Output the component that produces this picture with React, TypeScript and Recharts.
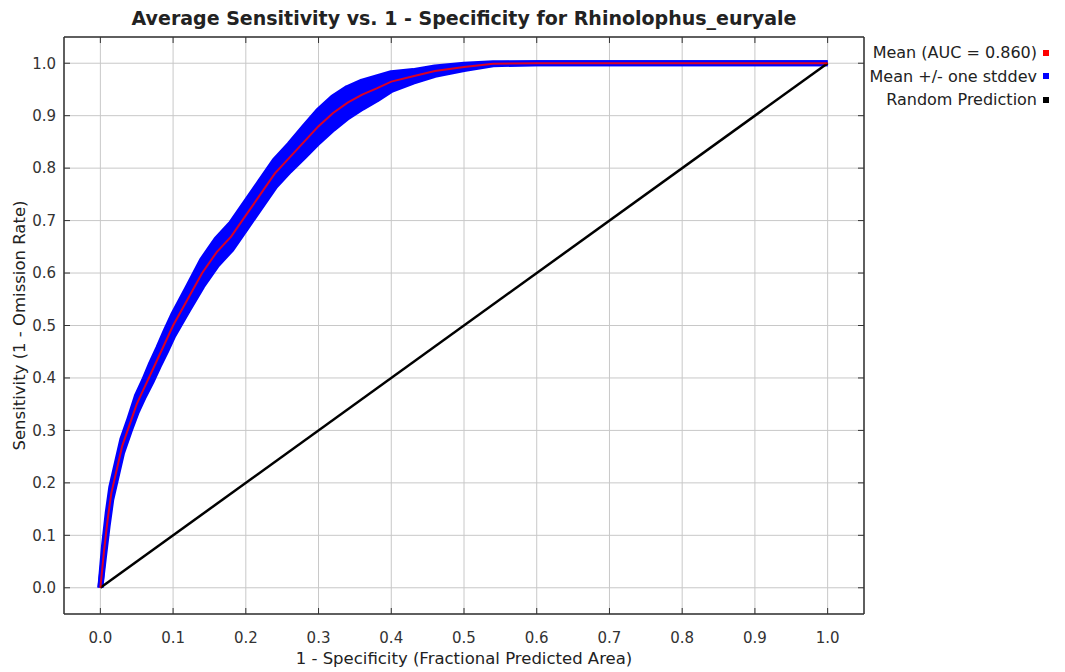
import { Area, CartesianGrid, ComposedChart, Line, XAxis, YAxis } from "recharts";

// ROC curve
const fpr = [0, 0.005, 0.01, 0.015, 0.02, 0.03, 0.04, 0.05, 0.06, 0.07, 0.08, 0.09, 0.1, 0.12, 0.14, 0.16, 0.18, 0.2, 0.22, 0.24, 0.26, 0.28, 0.3, 0.32, 0.34, 0.36, 0.38, 0.4, 0.43, 0.46, 0.5, 0.54, 0.6, 0.7, 0.8, 0.9, 1.0];
const meanSens = [0, 0.07, 0.13, 0.18, 0.21, 0.27, 0.31, 0.35, 0.38, 0.41, 0.44, 0.47, 0.5, 0.55, 0.6, 0.64, 0.67, 0.71, 0.75, 0.79, 0.82, 0.85, 0.88, 0.905, 0.925, 0.94, 0.952, 0.965, 0.975, 0.985, 0.993, 0.999, 1, 1, 1, 1, 1];
const stdSens = [0, 0.01, 0.012, 0.012, 0.012, 0.012, 0.012, 0.015, 0.015, 0.018, 0.018, 0.02, 0.02, 0.022, 0.025, 0.025, 0.025, 0.025, 0.025, 0.025, 0.025, 0.028, 0.03, 0.03, 0.028, 0.025, 0.021, 0.016, 0.01, 0.007, 0.004, 0.001, 0, 0, 0, 0, 0];

const randomX = [0, 1];
const randomY = [0, 1];

const ticks = [0, 0.1, 0.2, 0.3, 0.4, 0.5, 0.6, 0.7, 0.8, 0.9, 1.0];

const legendItems = [
  { label: "Mean (AUC = 0.860)", color: "#ff0000" },
  { label: "Mean +/- one stddev", color: "#0000ff" },
  { label: "Random Prediction", color: "#000000" },
];

const rocData = fpr.map((x, i) => ({
  x,
  mean: meanSens[i],
  band: [Math.max(0, meanSens[i] - stdSens[i]), Math.min(1, meanSens[i] + stdSens[i])],
}));
const randomData = randomX.map((x, i) => ({ x, y: randomY[i] }));

const font = "'DejaVu Sans', sans-serif";
const tickStyle = { fontSize: 15, fill: "#333", fontFamily: font };
const fmt = (v: number) => v.toFixed(1);
const frame = { stroke: "#333", strokeWidth: 1.5 };
const noLabel = () => <g />;

export default function App() {
  return (
    <div style={{ position: "absolute", left: 0, top: 0, width: 1065, height: 672, background: "#fff" }}>
      <div
        style={{
          position: "absolute",
          left: 64,
          width: 800,
          top: 7,
          textAlign: "center",
          fontFamily: font,
          fontWeight: "bold",
          fontSize: 19,
          color: "#222",
        }}
      >
        Average Sensitivity vs. 1 - Specificity for Rhinolophus_euryale
      </div>
      <div style={{ position: "absolute", right: 16, top: 41, fontFamily: font, fontSize: 16, color: "#222" }}>
        {legendItems.map((it) => (
          <div key={it.label} style={{ display: "flex", justifyContent: "flex-end", alignItems: "center", height: 23.5 }}>
            <span>{it.label}</span>
            <span style={{ display: "inline-block", width: 6, height: 6, background: it.color, marginLeft: 6 }} />
          </div>
        ))}
      </div>
      <ComposedChart width={1065} height={672} margin={{ top: 36, right: 200, bottom: 0, left: 0 }}>
        <CartesianGrid stroke="#c8c8c8" strokeWidth={1} />
        <XAxis
          dataKey="x"
          type="number"
          domain={[-0.05, 1.05]}
          ticks={ticks}
          tickFormatter={fmt}
          height={58}
          tickSize={-6}
          tickMargin={24}
          tick={tickStyle}
          axisLine={frame}
          tickLine={{ stroke: "#333" }}
          label={{ value: "1 - Specificity (Fractional Predicted Area)", position: "insideBottom", offset: 8, style: { fontSize: 16.5, fill: "#222", fontFamily: font } }}
        />
        <XAxis
          xAxisId="top"
          dataKey="x"
          orientation="top"
          type="number"
          domain={[-0.05, 1.05]}
          ticks={ticks}
          height={1}
          tickSize={-6}
          tick={noLabel}
          axisLine={frame}
          tickLine={{ stroke: "#333" }}
        />
        <YAxis
          type="number"
          domain={[-0.05, 1.05]}
          ticks={ticks}
          tickFormatter={fmt}
          width={64}
          tickSize={-6}
          tickMargin={14}
          tick={tickStyle}
          axisLine={frame}
          tickLine={{ stroke: "#333" }}
          label={{
            content: ({ viewBox }: any) => (
              <text
                x={19}
                y={viewBox.y + viewBox.height / 2}
                transform={`rotate(-90, 19, ${viewBox.y + viewBox.height / 2})`}
                textAnchor="middle"
                dominantBaseline="central"
                style={{ fontSize: 16.5, fill: "#222", fontFamily: font }}
              >
                Sensitivity (1 - Omission Rate)
              </text>
            ),
          }}
        />
        <YAxis
          yAxisId="right"
          orientation="right"
          type="number"
          domain={[-0.05, 1.05]}
          ticks={ticks}
          width={1}
          tickSize={-6}
          tick={noLabel}
          axisLine={frame}
          tickLine={{ stroke: "#333" }}
        />
        <Area
          data={rocData}
          dataKey="band"
          type="linear"
          stroke="#0000ff"
          strokeWidth={6}
          strokeLinejoin="round"
          fill="#0000ff"
          fillOpacity={1}
          isAnimationActive={false}
        />
        <Line
          data={randomData}
          xAxisId="top"
          yAxisId="right"
          dataKey="y"
          type="linear"
          stroke="#000"
          strokeWidth={2.5}
          dot={false}
          isAnimationActive={false}
        />
        <Line
          data={rocData}
          dataKey="mean"
          type="linear"
          stroke="#ff0000"
          strokeWidth={2}
          strokeOpacity={0.85}
          dot={false}
          isAnimationActive={false}
        />
      </ComposedChart>
    </div>
  );
}
